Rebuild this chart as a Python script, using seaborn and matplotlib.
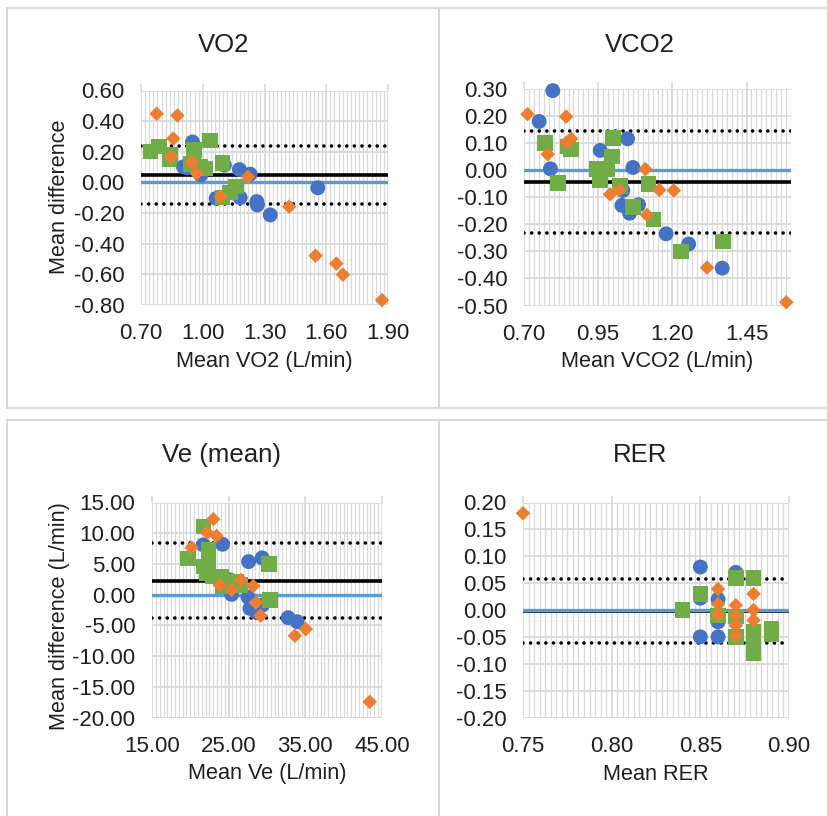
import numpy as np
import pandas as pd
import matplotlib
matplotlib.use("Agg")
import matplotlib.pyplot as plt
import seaborn as sns
from matplotlib.ticker import MultipleLocator, FormatStrFormatter
from matplotlib.patches import Rectangle

# ---------------- data ----------------
series_names = ["Series 1", "Series 2", "Series 3"]  # blue circles, green squares, orange diamonds

# VO2
vo2_blue_x = [0.950, 0.906, 0.925, 0.990, 1.105, 1.065, 1.178, 1.182, 1.230, 1.263, 1.265, 1.328, 1.559]
vo2_blue_y = [0.264, 0.102, 0.095, 0.048, 0.113, -0.104, 0.084, -0.100, 0.054, -0.125, -0.147, -0.212, -0.035]
vo2_green_x = [0.747, 0.788, 0.838, 0.840, 0.958, 0.955, 0.940, 0.987, 1.010, 1.036, 1.097, 1.097, 1.133, 1.162]
vo2_green_y = [0.203, 0.236, 0.150, 0.180, 0.210, 0.170, 0.120, 0.100, 0.090, 0.275, 0.128, -0.097, -0.067, -0.028]
vo2_orange_x = [0.776, 0.877, 0.857, 0.846, 0.946, 0.971, 1.088, 1.219, 1.420, 1.548, 1.649, 1.681, 1.871]
vo2_orange_y = [0.448, 0.437, 0.286, 0.167, 0.130, 0.058, -0.093, 0.037, -0.158, -0.478, -0.530, -0.602, -0.768]
vo2_lines = {"zero": 0.0, "mean": 0.048, "upper": 0.240, "lower": -0.143}

# VCO2
vco2_blue_x = [0.797, 0.751, 0.789, 0.957, 0.955, 1.049, 1.067, 1.033, 1.030, 1.056, 1.086, 1.179, 1.255, 1.368]
vco2_blue_y = [0.294, 0.180, 0.005, 0.073, -0.035, 0.116, 0.010, -0.075, -0.130, -0.159, -0.128, -0.235, -0.273, -0.362]
vco2_green_x = [0.771, 0.848, 0.858, 0.814, 1.000, 0.996, 0.945, 0.982, 0.957, 1.024, 1.067, 1.120, 1.137, 1.229, 1.371]
vco2_green_y = [0.100, 0.087, 0.077, -0.048, 0.118, 0.050, 0.005, 0.005, -0.036, -0.058, -0.137, -0.052, -0.183, -0.300, -0.264]
vco2_orange_x = [0.712, 0.842, 0.780, 0.844, 0.859, 0.990, 1.021, 1.109, 1.114, 1.156, 1.205, 1.317, 1.584]
vco2_orange_y = [0.207, 0.198, 0.059, 0.103, 0.116, -0.089, -0.073, 0.004, -0.165, -0.073, -0.075, -0.360, -0.488]
vco2_lines = {"zero": 0.0, "mean": -0.044, "upper": 0.145, "lower": -0.233}

# Ve (mean)
ve_blue_x = [21.69, 24.20, 27.60, 29.37, 25.38, 25.16, 27.55, 27.77, 28.63, 29.42, 32.76, 33.93]
ve_blue_y = [8.10, 8.20, 5.38, 5.98, 0.05, 2.39, -0.43, -2.23, -2.93, -1.68, -3.75, -4.40]
ve_green_x = [19.73, 21.69, 21.69, 22.34, 22.34, 22.12, 22.99, 24.08, 24.20, 26.03, 26.46, 30.28, 30.37]
ve_green_y = [5.92, 11.09, 4.57, 7.28, 5.38, 3.48, 2.93, 2.93, 1.30, 2.12, 1.58, 5.00, -0.87]
ve_orange_x = [22.99, 22.20, 23.42, 20.17, 23.86, 25.38, 26.59, 28.20, 28.55, 29.16, 33.63, 35.06, 43.40]
ve_orange_y = [12.28, 10.10, 9.57, 7.66, 1.58, 0.76, 2.39, 1.41, -1.30, -3.42, -6.68, -5.60, -17.45]
ve_lines = {"zero": 0.0, "mean": 2.28, "upper": 8.37, "lower": -3.75}

# RER
rer_blue_x = [0.85, 0.85, 0.85, 0.86, 0.86, 0.86, 0.87, 0.87]
rer_blue_y = [0.080, 0.022, -0.050, -0.050, 0.020, -0.022, 0.070, -0.019]
rer_green_x = [0.84, 0.85, 0.86, 0.87, 0.87, 0.87, 0.88, 0.88, 0.88, 0.88, 0.89, 0.89]
rer_green_y = [0.000, 0.030, -0.010, 0.060, -0.012, -0.050, 0.060, -0.040, -0.050, -0.080, -0.035, -0.045]
rer_orange_x = [0.75, 0.86, 0.86, 0.86, 0.87, 0.87, 0.87, 0.87, 0.88, 0.88, 0.88]
rer_orange_y = [0.180, 0.039, 0.011, -0.009, 0.009, -0.011, -0.029, -0.048, 0.030, 0.000, -0.019]
rer_lines = {"zero": 0.0, "mean": -0.002, "upper": 0.058, "lower": -0.062}

# tick settings
vo2_xticks = [0.70, 1.00, 1.30, 1.60, 1.90]
vco2_xticks = [0.70, 0.95, 1.20, 1.45]
ve_xticks = [15.00, 25.00, 35.00, 45.00]
rer_xticks = [0.75, 0.80, 0.85, 0.90]

# ---------------- style ----------------
sns.set_theme(style="white")
plt.rcParams['font.family'] = ['Liberation Sans', 'DejaVu Sans']
plt.rcParams['axes.unicode_minus'] = False

W, H = 827, 816
fig = plt.figure(figsize=(W / 100, H / 100), dpi=100)

GRID = "#D9D9D9"
TXT = "#1f1f1f"
TICK_FS = 16
LABEL_FS = 15.6
TITLE_FS = 18.5
palette = {series_names[0]: "#4472C4", series_names[1]: "#70AD47", series_names[2]: "#ED7D31"}
markers = {series_names[0]: "o", series_names[1]: "s", series_names[2]: "D"}
sizes = {series_names[0]: 115, series_names[1]: 125, series_names[2]: 55}

# panel frames
for (l, t, r, b) in [(7, 8, 439, 408), (439, 8, 860, 408), (7, 420, 439, 840), (439, 420, 860, 840)]:
    fig.patches.append(Rectangle((l / W, 1 - b / H), (r - l) / W, (b - t) / H, transform=fig.transFigure,
                                 fill=False, ec=GRID, lw=1.4, zorder=0))


def add_px_axes(l, t, r, b):
    return fig.add_axes([l / W, 1 - b / H, (r - l) / W, (b - t) / H])


def make_df(bx, by, gx, gy, ox, oy):
    return pd.concat([
        pd.DataFrame({"x": bx, "y": by, "series": series_names[0]}),
        pd.DataFrame({"x": gx, "y": gy, "series": series_names[1]}),
        pd.DataFrame({"x": ox, "y": oy, "series": series_names[2]}),
    ], ignore_index=True)


panels = [
    dict(rect=(141, 90.5, 388, 305), df=make_df(vo2_blue_x, vo2_blue_y, vo2_green_x, vo2_green_y, vo2_orange_x, vo2_orange_y),
         lines=vo2_lines, xlim=(0.70, 1.90), xticks=vo2_xticks, xminor=0.02, ylim=(-0.80, 0.60), ystep=0.20,
         xfmt="%.2f", yfmt="%.2f", title="VO2", title_xy=(224, 45), xlabel="Mean VO2 (L/min)", ylabel="Mean difference",
         ylabel_cy=197),
    dict(rect=(524, 89, 791, 305.5), df=make_df(vco2_blue_x, vco2_blue_y, vco2_green_x, vco2_green_y, vco2_orange_x, vco2_orange_y),
         lines=vco2_lines, xlim=(0.70, 1.60), xticks=vco2_xticks, xminor=0.25 / 15, ylim=(-0.50, 0.30), ystep=0.10,
         xfmt="%.2f", yfmt="%.2f", title="VCO2", title_xy=(640, 45), xlabel="Mean VCO2 (L/min)", ylabel=None,
         ylabel_cy=None),
    dict(rect=(152, 502.5, 382, 717.5), df=make_df(ve_blue_x, ve_blue_y, ve_green_x, ve_green_y, ve_orange_x, ve_orange_y),
         lines=ve_lines, xlim=(15, 45), xticks=ve_xticks, xminor=0.5, ylim=(-20, 15), ystep=5,
         xfmt="%.2f", yfmt="%.2f", title="Ve (mean)", title_xy=(222, 455), xlabel="Mean Ve (L/min)",
         ylabel="Mean difference (L/min)", ylabel_cy=616),
    dict(rect=(523, 502.5, 789, 717.5), df=make_df(rer_blue_x, rer_blue_y, rer_green_x, rer_green_y, rer_orange_x, rer_orange_y),
         lines=rer_lines, xlim=(0.75, 0.90), xticks=rer_xticks, xminor=0.05 / 16, ylim=(-0.20, 0.20), ystep=0.05,
         xfmt="%.2f", yfmt="%.2f", title="RER", title_xy=(640, 455), xlabel="Mean RER", ylabel=None,
         ylabel_cy=None),
]

for p in panels:
    l, t, r, b = p["rect"]
    ax = add_px_axes(l, t, r, b)
    ax.set_axisbelow(True)
    sns.scatterplot(data=p["df"], x="x", y="y", hue="series", style="series", size="series",
                    palette=palette, markers=markers, sizes=sizes, linewidth=0, legend=False,
                    ax=ax, zorder=3, clip_on=False)
    ln = p["lines"]
    ax.axhline(ln["mean"], color="black", lw=2.6, zorder=1.6)
    ax.axhline(ln["zero"], color="#5B9BD5", lw=2.4, zorder=1.7)
    for key in ("upper", "lower"):
        ax.axhline(ln[key], color="black", lw=2.6, ls=(0, (0.01, 2.1)), dash_capstyle="round", zorder=1.6)

    ax.set_xlim(*p["xlim"])
    ax.set_ylim(*p["ylim"])
    ax.set_xticks(p["xticks"])
    ax.xaxis.set_minor_locator(MultipleLocator(p["xminor"]))
    ax.yaxis.set_major_locator(MultipleLocator(p["ystep"]))
    ax.xaxis.set_major_formatter(FormatStrFormatter(p["xfmt"]))
    ax.yaxis.set_major_formatter(FormatStrFormatter(p["yfmt"]))
    ax.grid(True, which="major", axis="both", color=GRID, lw=1.3)
    ax.grid(True, which="minor", axis="x", color=GRID, lw=0.9)
    for s in ax.spines.values():
        s.set_visible(False)
    ax.tick_params(axis="x", which="major", top=True, bottom=False, length=5, width=1.2, color=GRID,
                   direction="out", labelsize=TICK_FS, labelcolor=TXT, pad=8)
    ax.tick_params(axis="x", which="minor", top=False, bottom=False, length=0)
    ax.tick_params(axis="y", which="both", left=False, length=0, labelsize=TICK_FS, labelcolor=TXT, pad=12)

    pw, ph = r - l, b - t
    ax.set_xlabel(p["xlabel"], fontsize=LABEL_FS, color=TXT)
    ax.xaxis.set_label_coords(0.5, -46.0 / ph)
    if p["ylabel"]:
        ax.set_ylabel(p["ylabel"], fontsize=LABEL_FS, color=TXT)
        ax.yaxis.set_label_coords((70 - l) / pw, (b - p["ylabel_cy"]) / ph)
    else:
        ax.set_ylabel("")
    fig.text(p["title_xy"][0] / W, 1 - p["title_xy"][1] / H, p["title"], fontsize=TITLE_FS, color=TXT,
             ha="center", va="center")

fig.savefig("out.png", dpi=100)
